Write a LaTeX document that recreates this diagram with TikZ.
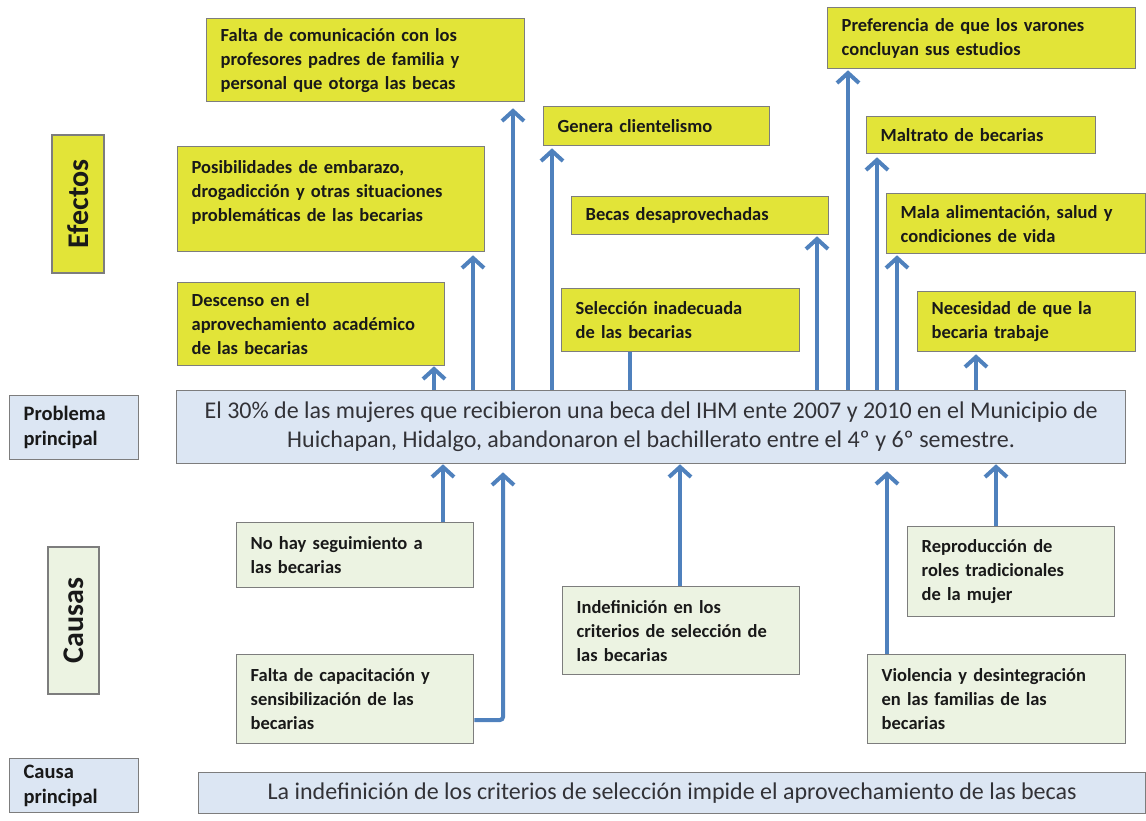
\documentclass[tikz,border=0pt]{standalone}
\usepackage{fontspec}
\setmainfont{Carlito}
\usetikzlibrary{arrows.meta}
\definecolor{ey}{RGB}{226,228,56}
\definecolor{pb}{RGB}{220,230,243}
\definecolor{cg}{RGB}{236,243,226}
\definecolor{bd}{RGB}{125,125,125}
\definecolor{ar}{RGB}{79,129,189}
\definecolor{tx}{RGB}{25,25,25}
\definecolor{tp}{RGB}{50,50,55}
\tikzset{
  base/.style={draw=bd, line width=1.3pt, anchor=north west, inner xsep=14pt, inner ysep=0pt,
    align=left, text=tx, font=\fontsize{18.5}{24}\selectfont\bfseries},
  effbox/.style={base, fill=ey},
  causebox/.style={base, fill=cg},
  labbox/.style={base, fill=pb, font=\fontsize{20.5}{25}\selectfont\bfseries},
  probbox/.style={draw=bd, line width=1.3pt, fill=pb, anchor=north west, align=center,
    inner sep=0pt, text=tp, font=\fontsize{24}{29}\selectfont},
  sidebox/.style={draw=bd, line width=1.3pt, anchor=center, rotate=90, inner sep=0pt,
    text=tx, font=\fontsize{30}{36}\selectfont\bfseries},
  arr/.style={draw=ar, line width=4pt, -{Straight Barb[length=10pt,width=22pt]}},
  link/.style={draw=ar, line width=4pt},
}
\begin{document}
\begin{tikzpicture}[x=1pt,y=-1pt]
\useasboundingbox (0,0) rectangle (1146,821);

% side labels
\node[sidebox, fill=ey, minimum width=138pt, minimum height=52pt] (lef) at (78,204) {Efectos};
\node[labbox, minimum height=64pt, text width=101pt] (lpp) at (9,395) {Problema\\principal};
\node[sidebox, fill=cg, minimum width=147pt, minimum height=51pt] (lca) at (73.5,620.5) {Causas};
\node[labbox, minimum height=54pt, text width=101pt] (lcp) at (9,758) {Causa\\principal};

% effects
\node[effbox, minimum height=83pt, text width=290pt] (e1) at (206,18) {Falta de comunicación con los\\profesores padres de familia y\\personal que otorga las becas};
\node[effbox, minimum height=39pt, text width=198pt] (e2) at (543,106) {Genera clientelismo};
\node[effbox, minimum height=105pt, text width=279pt] (e3) at (177,146) {Posibilidades de embarazo,\\drogadicción y otras situaciones\\problemáticas de las becarias\\[-8pt]\mbox{}};
\node[effbox, minimum height=38pt, text width=229pt] (e4) at (571,196) {Becas desaprovechadas};
\node[effbox, minimum height=83pt, text width=239pt] (e5) at (177,282) {Descenso en el\\aprovechamiento académico\\de las becarias};
\node[effbox, minimum height=63pt, text width=210pt] (e6) at (561,288) {Selección inadecuada\\de las becarias};
\node[effbox, minimum height=61pt, text width=280pt] (e7) at (827,7) {Preferencia de que los varones\\concluyan sus estudios};
\node[effbox, minimum height=37pt, text width=201pt] (e8) at (866,116) {Maltrato de becarias};
\node[effbox, minimum height=60pt, text width=231pt] (e9) at (886,193) {Mala alimentación, salud y\\condiciones de vida};
\node[effbox, minimum height=60pt, text width=190pt] (e10) at (917,291) {Necesidad de que la\\becaria trabaje};

% main problem
\node[probbox, minimum width=949pt, minimum height=73pt] (p) at (176,390) {El 30\% de las mujeres que recibieron una beca del IHM ente 2007 y 2010 en el Municipio de\\Huichapan, Hidalgo, abandonaron el bachillerato entre el 4º y 6º semestre.};

% causes
\node[causebox, minimum height=65pt, text width=209pt] (c1) at (236,522) {No hay seguimiento a\\las becarias};
\node[causebox, minimum height=89pt, text width=209pt] (c2) at (236,654) {Falta de capacitación y\\sensibilización de las\\becarias};
\node[causebox, minimum height=88pt, text width=209pt] (c3) at (562,586) {Indefinición en los\\criterios de selección de\\las becarias};
\node[causebox, minimum height=90pt, text width=179pt] (c4) at (907,526) {Reproducción de\\roles tradicionales\\de la mujer};
\node[causebox, minimum height=89pt, text width=230pt] (c5) at (867,654) {Violencia y desintegración\\en las familias de las\\becarias};

% main cause
\node[probbox, minimum width=947pt, minimum height=41pt] (m) at (198,772) {La indefinición de los criterios de selección impide el aprovechamiento de las becas};

% effect arrows
\draw[arr] (p.north -| 434,0) -- (e5.south -| 434,0);
\draw[arr, shorten >=3pt] (p.north -| 473,0) -- (e3.south -| 473,0);
\draw[arr, shorten >=6pt] (p.north -| 513,0) -- (e1.south -| 513,0);
\draw[arr, shorten >=2pt] (p.north -| 552,0) -- (e2.south -| 552,0);
\draw[link] (e6.south -| 630,0) -- (p.north -| 630,0);
\draw[arr, shorten >=1pt] (p.north -| 817,0) -- (e4.south -| 817,0);
\draw[arr, shorten >=1pt] (p.north -| 848,0) -- (e7.south -| 848,0);
\draw[arr, shorten >=3pt] (p.north -| 877,0) -- (e8.south -| 877,0);
\draw[arr, shorten >=1pt] (p.north -| 897,0) -- (e9.south -| 897,0);
\draw[arr, shorten >=2pt] (p.north -| 976,0) -- (e10.south -| 976,0);

% cause arrows
\draw[arr] (c1.north -| 443,0) -- (p.south -| 443,0);
\draw[arr, shorten >=8pt, rounded corners=3pt] (c2.east |- 0,720) -| (p.south -| 503,0);
\draw[arr] (c3.north -| 680,0) -- (p.south -| 680,0);
\draw[arr, shorten >=7pt] (c5.north -| 887,0) -- (p.south -| 887,0);
\draw[arr] (c4.north -| 996,0) -- (p.south -| 996,0);
\end{tikzpicture}
\end{document}
